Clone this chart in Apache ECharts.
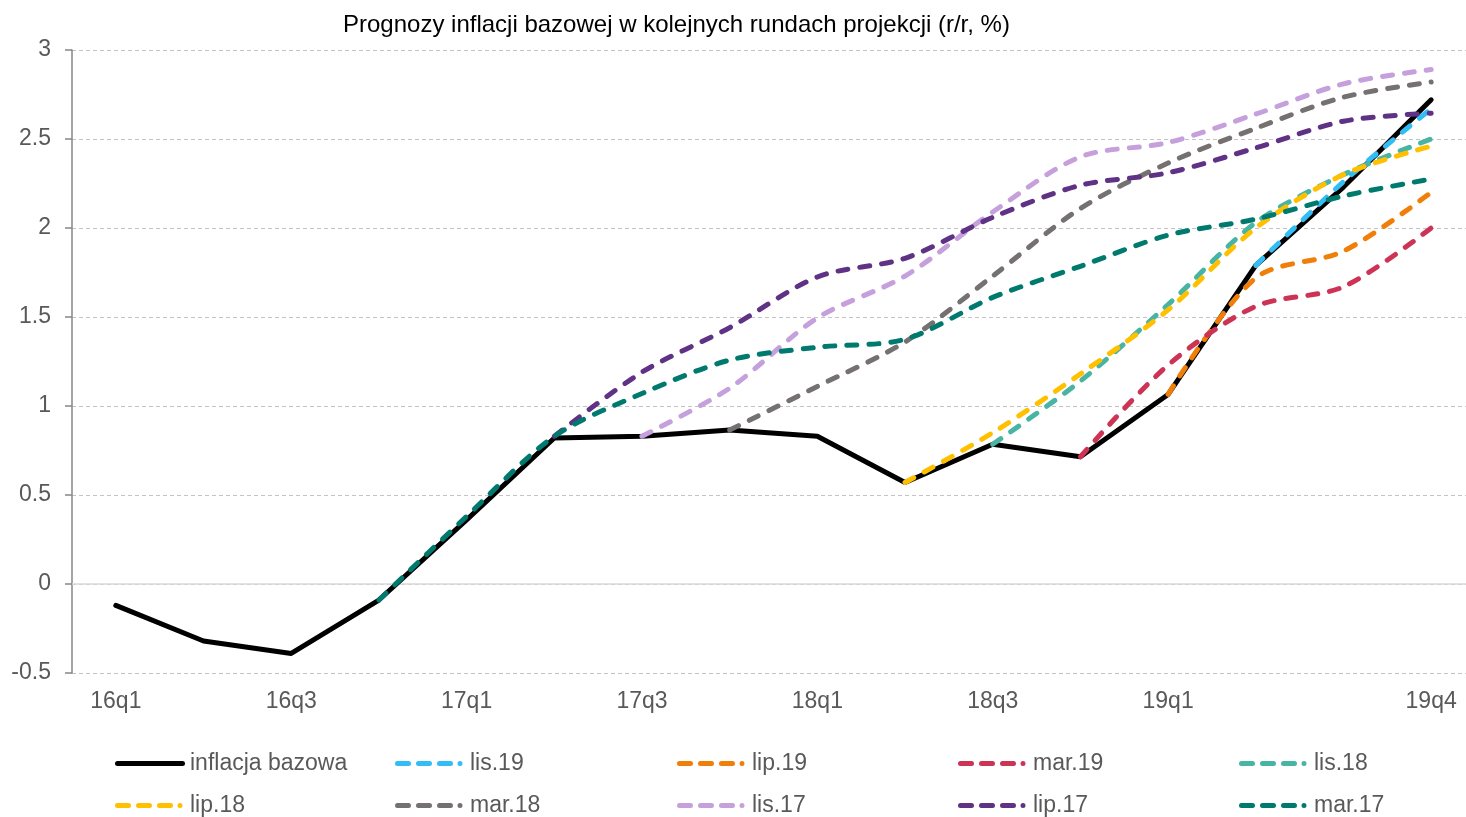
<!DOCTYPE html>
<html>
<head>
<meta charset="utf-8">
<title>Prognozy inflacji bazowej</title>
<script src="https://cdn.jsdelivr.net/npm/echarts@6/dist/echarts.min.js"></script>
<style>
    html, body { margin: 0; padding: 0; background: #fff; }
    #main { width: 1466px; height: 817px; }
</style>
</head>
<body>
<div id="main"></div>
<script>
    // kwartaly
    var kwartaly = ['16q1', '16q2', '16q3', '16q4', '17q1', '17q2', '17q3', '17q4',
        '18q1', '18q2', '18q3', '18q4', '19q1', '19q2', '19q3', '19q4'];

    // inflacja bazowa (dane)
    var inflacjaBazowa = [-0.12, -0.32, -0.39, -0.09, 0.36, 0.82, 0.83, 0.865, 0.83, 0.57, 0.785, 0.715, 1.065, 1.79, 2.23, 2.72];

    // projekcje
    var lis19 = [null, null, null, null, null, null, null, null, null, null, null, null, null, 1.79, 2.26, 2.67];
    var lip19 = [null, null, null, null, null, null, null, null, null, null, null, null, 1.065, 1.72, 1.87, 2.2];
    var mar19 = [null, null, null, null, null, null, null, null, null, null, null, 0.715, 1.23, 1.56, 1.67, 2.0];
    var lis18 = [null, null, null, null, null, null, null, null, null, null, 0.785, 1.14, 1.57, 2.03, 2.3, 2.5];
    var lip18 = [null, null, null, null, null, null, null, null, null, 0.57, 0.85, 1.18, 1.54, 2.0, 2.3, 2.46];
    var mar18 = [null, null, null, null, null, null, null, 0.865, 1.11, 1.36, 1.73, 2.11, 2.365, 2.56, 2.735, 2.82];
    var lis17 = [null, null, null, null, null, null, 0.83, 1.1, 1.495, 1.73, 2.09, 2.4, 2.48, 2.64, 2.81, 2.89];
    var lip17 = [null, null, null, null, null, 0.83, 1.19, 1.44, 1.725, 1.83, 2.06, 2.24, 2.31, 2.45, 2.6, 2.645];
    var mar17 = [null, null, null, -0.09, 0.38, 0.83, 1.07, 1.258, 1.33, 1.375, 1.61, 1.785, 1.96, 2.05, 2.18, 2.275];

    var nazwy = ['inflacja bazowa', 'lis.19', 'lip.19', 'mar.19', 'lis.18', 'lip.18', 'mar.18', 'lis.17', 'lip.17', 'mar.17'];
    var kolory = ['#000000', '#33bdf5', '#f07f09', '#cc3355', '#48b4a4', '#ffc000', '#767171', '#c5a0dc', '#5f3285', '#007a6e'];
    var dane = [inflacjaBazowa, lis19, lip19, mar19, lis18, lip18, mar18, lis17, lip17, mar17];

    var czcionka = '"Liberation Sans", Arial, sans-serif';

    // ikony legendy (linia ciagla / przerywana z kropka)
    var ikonaCiagla = 'path://M2.5,0H67.5A2.5,2.5 0 0 1 67.5,5H2.5A2.5,2.5 0 0 1 2.5,0Z';
    var ikonaPrzer = 'path://M2.5,0H13.5A2.5,2.5 0 0 1 13.5,5H2.5A2.5,2.5 0 0 1 2.5,0Z' +
        'M23.5,0H34.5A2.5,2.5 0 0 1 34.5,5H23.5A2.5,2.5 0 0 1 23.5,0Z' +
        'M44.5,0H55.5A2.5,2.5 0 0 1 55.5,5H44.5A2.5,2.5 0 0 1 44.5,0Z' +
        'M65,0A2.5,2.5 0 0 1 65,5A2.5,2.5 0 0 1 65,0Z M70,2.5Z';

    var series = [];
    for (var i = 0; i < nazwy.length; i++) {
        var s = {
            name: nazwy[i],
            type: 'line',
            data: dane[i],
            symbol: 'none',
            connectNulls: false,
            smooth: i === 0 ? false : 0.3,
            lineStyle: {
                color: kolory[i],
                width: 5,
                type: i === 0 ? 'solid' : [10, 12],
                cap: 'round',
                join: 'round'
            },
            itemStyle: { color: kolory[i] },
            z: 3
        };
        if (i === 0) {
            // linia zera
            s.markLine = {
                silent: true,
                symbol: 'none',
                z: 1,
                label: { show: false },
                lineStyle: { color: '#d9d9d9', type: 'solid', width: 1.5 },
                data: [{ yAxis: 0 }]
            };
        }
        series.push(s);
    }

    // legenda: 5 kolumn x 2 wiersze
    var kolX = [110, 390, 672, 953, 1234];
    var wierszY = [747, 789];
    var legendy = [];
    for (var j = 0; j < nazwy.length; j++) {
        legendy.push({
            data: [{ name: nazwy[j], icon: j === 0 ? ikonaCiagla : ikonaPrzer }],
            left: kolX[j % 5],
            top: wierszY[Math.floor(j / 5)],
            itemWidth: 70,
            itemHeight: 5,
            selectedMode: false,
            itemStyle: { color: kolory[j], borderWidth: 0 },
            textStyle: { fontSize: 23, color: '#595959', fontFamily: czcionka }
        });
    }

    var myChart = echarts.init(document.getElementById('main'));
    var option = {
        backgroundColor: '#ffffff',
        animation: false,
        title: {
            text: 'Prognozy inflacji bazowej w kolejnych rundach projekcji (r/r, %)',
            left: 338,
            top: 8,
            textStyle: { fontSize: 24, fontWeight: 'normal', color: '#000000', fontFamily: czcionka }
        },
        legend: legendy,
        grid: { left: 72, width: 1403, top: 50, bottom: 144, containLabel: false, outerBoundsMode: 'none' },
        xAxis: {
            type: 'category',
            data: kwartaly,
            boundaryGap: true,
            axisLine: { show: false },
            axisTick: { show: false },
            axisLabel: {
                fontSize: 23,
                color: '#595959',
                fontFamily: czcionka,
                margin: 17,
                interval: function (idx) {
                    return (idx % 2 === 0 && idx < 14) || idx === 15;
                }
            },
            splitLine: { show: false }
        },
        yAxis: {
            type: 'value',
            min: -0.5,
            max: 3,
            interval: 0.5,
            axisLine: { show: true, lineStyle: { color: '#868686', width: 1.5 } },
            axisTick: { show: true, length: 7, lineStyle: { color: '#868686', width: 1.5 } },
            axisLabel: { fontSize: 23, color: '#595959', fontFamily: czcionka, margin: 21 },
            splitLine: { show: true, lineStyle: { color: '#c3c3c3', type: [4, 3], width: 1 } }
        },
        series: series
    };
    myChart.setOption(option);
</script>
</body>
</html>
